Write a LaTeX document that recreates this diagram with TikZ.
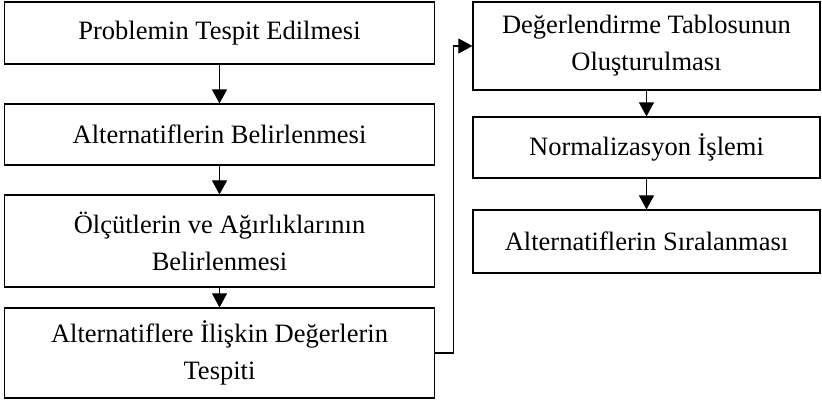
\documentclass[tikz,border=0pt]{standalone}
\usepackage{fontspec}
\setmainfont{Liberation Serif}
\usetikzlibrary{arrows.meta}
\tikzset{
  stepbox/.style={draw, line width=1.2pt, rectangle, align=center, inner sep=0pt,
    font=\fontsize{26.5}{37}\selectfont},
  flow/.style={line width=1.1pt, -{Triangle[length=14pt,width=15pt]}}
}
\begin{document}
\begin{tikzpicture}[x=1pt,y=-1pt]
      \useasboundingbox (0,0) rectangle (822,404);
      \draw
        (219.5,33) node[stepbox, minimum width=430pt, minimum height=62pt] (tespit){Problemin Tespit Edilmesi}
        (219.5,134.5) node[stepbox, minimum width=430pt, minimum height=61pt] (alt){Alternatiflerin Belirlenmesi}
        (219.5,241) node[stepbox, minimum width=430pt, minimum height=92pt] (olcut){Ölçütlerin ve Ağırlıklarının\\Belirlenmesi}
        (219.5,353) node[stepbox, minimum width=430pt, minimum height=90pt] (deger){Alternatiflere İlişkin Değerlerin\\Tespiti}
        (646.5,46) node[stepbox, minimum width=347pt, minimum height=88pt] (tablo){Değerlendirme Tablosunun\\Oluşturulması}
        (646.5,147.5) node[stepbox, minimum width=347pt, minimum height=61pt] (norm){Normalizasyon İşlemi}
        (646.5,241.5) node[stepbox, minimum width=347pt, minimum height=63pt] (sira){Alternatiflerin Sıralanması};
      \begin{scope}[flow]
        \draw (tespit) to (alt);
        \draw (alt) to (olcut);
        \draw (olcut) to (deger);
        \draw (deger.east) -- ++(18,0) |- (tablo.west);
        \draw (tablo) to (norm);
        \draw (norm) to (sira);
      \end{scope}
    \end{tikzpicture}
\end{document}
